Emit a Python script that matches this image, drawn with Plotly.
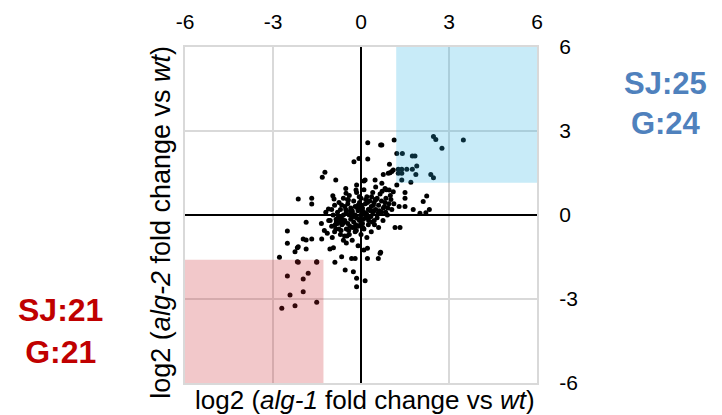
import plotly.graph_objects as go

# log2 fold change values (x: alg-1 vs wt, y: alg-2 vs wt)
x_vals = [
    # upper-right / blue region
    2.47, 2.55, 2.76, 3.49, 1.22, 1.41, 1.75, 1.84, 1.90, 0.97, 1.27, 1.39, 1.56, 1.75,
    1.27, 1.39, 1.87, 1.10, 0.99, 0.76, 2.38, 2.47, 1.39, 1.70, 1.13, 0.71, 1.22, 0.82,
    0.96, 1.10, 1.50, 1.50, 2.24, 2.12, 1.30, 1.50, 1.78, 2.01, 2.33, 2.21, 1.16, 1.33,
    # upper-left of centre
    0.23, 0.67, -0.24, -0.07, 0.23, -1.23, -1.32, -0.86, 0.93, 1.05, -2.14, -1.68, -1.68,
    -0.52, -0.15, 0.14, 0.48, 0.71, -0.96, -0.92, -2.51, -1.87, -0.51, -0.17, -0.43, -0.66,
    -1.11, 0.10,
    # lower-left
    -2.25, -2.17, -1.87, -1.97, -1.68, -1.34, -1.06, -0.94, -0.66, -0.54, -0.32, -0.20,
    -0.26, 0.10, 0.22, 0.22, -0.15, -0.15, 0.59, 0.65, -2.17, -1.51, -2.51, -2.14, -1.87,
    -0.89, 0.14, 0.67,
    # red region
    -2.78, -2.14, -1.51, -2.51, -1.80, -1.97, -2.42, -1.97, -2.70, -2.25, -1.51,
    # dense core
    -1.20, -1.10, -1.00, -1.00, -0.95, -0.90, -0.90, -0.85, -0.80, -0.80, -0.75, -0.75,
    -0.70, -0.70, -0.70, -0.65, -0.60, -0.60, -0.60, -0.55, -0.55, -0.50, -0.50, -0.50,
    -0.45, -0.45, -0.40, -0.40, -0.40, -0.35, -0.35, -0.30, -0.30, -0.30, -0.25, -0.25,
    -0.20, -0.20, -0.20, -0.15, -0.15, -0.10, -0.10, -0.10, -0.05, -0.05, 0.00, 0.00,
    0.00, 0.05, 0.05, 0.10, 0.10, 0.10, 0.15, 0.15, 0.20, 0.20, 0.20, 0.25, 0.25, 0.30,
    0.30, 0.35, 0.35, 0.40, 0.40, 0.45, 0.45, 0.50, 0.50, 0.55, 0.55, 0.60, 0.60, 0.65,
    0.70, 0.70, 0.75, 0.80, 0.85, 0.90, 0.95, 1.00, 1.05,
    -1.35, -1.25, -1.15, -1.05, -0.98, -0.88, -0.78, -0.68, -0.58, -0.48, -0.38, -0.28,
    -0.18, -0.08, 0.02, 0.12, 0.22, 0.32, 0.42, 0.52, 0.62, 0.72, 0.82, 0.92, 1.02, 1.12,
    -0.62, -0.52, -0.42, -0.32, -0.22, -0.12, -0.02, 0.08, 0.18, 0.28, 0.38, 0.48, 0.58,
    -0.72, -0.56, -0.36, -0.16, 0.04, 0.24, 0.44, 0.64, 0.84, -0.86, -0.46, -0.06, 0.34,
    -0.30, -0.10, 0.06, 0.16, 0.26, -0.24, -0.04, 0.36, 0.46, -0.64, -0.84, 0.76, 0.86,
]
y_vals = [
    2.80, 2.70, 2.38, 2.68, 2.20, 2.20, 2.11, 2.11, 1.75, 1.81, 1.63, 1.63, 1.63, 1.63,
    1.49, 1.49, 1.45, 1.61, 1.51, 1.45, 1.45, 1.33, 1.25, 1.17, 2.68, 2.50, 1.07, 0.95,
    0.89, 0.83, 0.80, 0.60, 0.68, 0.48, 0.30, 0.30, 0.20, 0.06, 0.20, 0.08, -0.45, -0.45,
    2.58, 2.50, 1.90, 2.02, 2.00, 1.53, 1.35, 1.25, 1.49, 1.55, 0.57, 0.60, 0.39,
    0.95, 1.07, 1.25, 1.25, 1.13, 0.69, 0.57, -0.57, -0.26, 0.78, 0.89, 0.54, 0.36,
    0.21, 1.21,
    -1.31, -1.17, -1.21, -0.86, -0.86, -0.86, -1.21, -1.17, -1.49, -1.96, -1.55, -1.55,
    -2.03, -1.25, -1.19, -1.55, -2.26, -2.56, -1.55, -1.37, -1.67, -1.67, -1.01, -1.13, -0.89,
    -1.69, -2.35, -1.33,
    -1.51, -1.69, -1.69, -2.18, -2.08, -2.29, -2.86, -2.74, -3.33, -3.24, -3.12,
    0.10, -0.20, 0.20, -0.40, 0.00, -0.60, 0.35, -0.15, -0.30, 0.10, -0.50, 0.45,
    -0.10, -0.70, 0.20, -0.35, 0.00, -0.90, 0.60, -0.20, 0.30, -0.50, 0.10, -1.00,
    0.40, -0.30, 0.00, -0.70, 0.70, -0.15, 0.25, -0.45, 0.10, -0.90, 0.50, -0.25,
    0.00, -0.60, 0.30, -0.10, 0.80, -0.40, 0.15, -1.10, 0.45, -0.20, 0.00, -0.70,
    0.60, -0.30, 0.25, 0.10, -0.50, 0.90, -0.10, 0.40, 0.00, -0.80, 0.65, 0.20, -0.35, 0.50,
    -0.05, 0.30, -0.60, 0.80, 0.10, -0.20, 0.45, 0.20, 1.00, -0.10, 0.60, 0.35, -0.45, 0.75,
    0.10, 0.50, -0.20, 0.30, 0.60, 0.00, 0.40, 0.70, 0.20,
    -0.30, -0.55, -0.65, -0.20, -0.80, -0.35, -0.10, -0.55, -0.25, -0.75, -0.40, -0.05,
    -0.35, -0.15, 0.35, 0.05, 0.45, 0.15, 0.35, 0.55, 0.15, 0.85, 0.45, 0.25, 0.55, 0.40,
    -0.30, 0.20, -0.55, 0.05, -0.45, 0.25, -0.35, -0.15, 0.05, 0.20, -0.25, 0.55, 0.05,
    -0.25, -0.75, 0.15, -0.55, 0.20, -0.10, 0.15, 0.05, 0.10, -0.50, 0.55, 0.65, -0.05,
    0.15, 0.35, -0.45, 0.55, -0.20, -0.05, 0.20, 0.65, -0.35, -0.15, -0.25, 0.25, 0.90,
]

tick_vals = [-6, -3, 0, 3, 6]
x_title = "log2 (<i>alg-1</i> fold change vs <i>wt</i>)"
y_title = "log2 (<i>alg-2</i> fold change vs <i>wt</i>)"
up_label = "SJ:25<br>G:24"
down_label = "SJ:21<br>G:21"

FONT = "Liberation Sans, Arial, sans-serif"

fig = go.Figure()
fig.add_trace(go.Scatter(
    x=x_vals, y=y_vals, mode="markers",
    marker=dict(color="black", size=5, line=dict(width=0)),
    hoverinfo="skip", showlegend=False,
))

fig.add_shape(type="rect", xref="x", yref="y", x0=1.2, x1=6, y0=1.15, y1=6,
              fillcolor="rgba(36,176,228,0.25)", line=dict(width=0), layer="above")
fig.add_shape(type="rect", xref="x", yref="y", x0=-6, x1=-1.28, y0=-6, y1=-1.6,
              fillcolor="rgba(204,36,44,0.25)", line=dict(width=0), layer="above")

axis_common = dict(
    range=[-6, 6], tickvals=tick_vals, ticktext=[str(v) for v in tick_vals],
    showgrid=True, gridcolor="#d9d9d9", gridwidth=2,
    zeroline=True, zerolinecolor="black", zerolinewidth=2,
    showline=True, linecolor="#d9d9d9", linewidth=2, mirror=True,
    ticks="", tickfont=dict(family=FONT, size=21, color="black"),
    fixedrange=True, automargin=False,
)

fig.update_layout(
    width=714, height=407,
    margin=dict(l=177, r=185, t=39, b=32),
    paper_bgcolor="white", plot_bgcolor="white",
    xaxis=dict(side="top", ticklabelstandoff=8, **axis_common),
    yaxis=dict(side="right", ticklabelstandoff=16, **axis_common),
    annotations=[
        dict(text=x_title, xref="paper", yref="paper", x=0.51, y=0.0,
             xanchor="center", yanchor="top", showarrow=False,
             font=dict(family=FONT, size=26, color="black")),
        dict(text=y_title, xref="paper", yref="paper", x=-0.02, y=0.48,
             xanchor="right", yanchor="middle", textangle=-90, showarrow=False,
             font=dict(family=FONT, size=27, color="black")),
        dict(text="<b>" + up_label + "</b>", xref="paper", yref="paper", x=1.364, y=0.833,
             xanchor="center", yanchor="middle", showarrow=False,
             font=dict(family=FONT, size=31, color="#4f81bd")),
        dict(text="<b>" + down_label + "</b>", xref="paper", yref="paper", x=-0.355, y=0.155,
             xanchor="center", yanchor="middle", showarrow=False,
             font=dict(family=FONT, size=32, color="#c00000")),
    ],
)

fig.write_html("out.html")
